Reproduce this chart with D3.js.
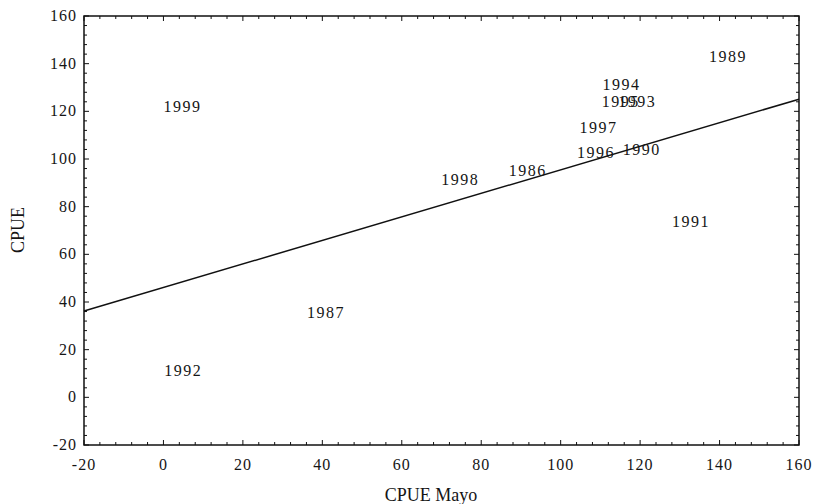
<!DOCTYPE html>
<html>
<head>
<meta charset="utf-8">
<script src="https://cdn.jsdelivr.net/npm/d3@7"></script>
<style>
  body { margin: 0; background: #fff; }
  text { font-family: "Liberation Serif", "DejaVu Serif", serif; fill: #151515; }
</style>
</head>
<body>
<div id="chart"></div>
<script>
// data
var years    = ["1999", "1989", "1994", "1995", "1993", "1997", "1996", "1990", "1986", "1998", "1991", "1987", "1992"];
var cpueMayo = [4.8, 142.1, 115.3, 115.1, 119.3, 109.5, 108.9, 120.4, 91.7, 74.7, 132.8, 40.9, 5.0];
var cpue     = [122, 142.8, 131, 124.1, 124.1, 112.9, 102.7, 103.8, 95, 91.2, 73.6, 35.3, 11.2];

// fitted line end points
var fitX = [-20, 160];
var fitY = [36.2, 125.1];

var xTicks = [-20, 0, 20, 40, 60, 80, 100, 120, 140, 160];
var yTicks = [-20, 0, 20, 40, 60, 80, 100, 120, 140, 160];

var width = 815, height = 504;
var margin = {top: 16, right: 16, bottom: 59, left: 84};

var svg = d3.select("#chart").append("svg")
    .attr("width", width)
    .attr("height", height);

var x = d3.scaleLinear().domain([-20, 160]).range([margin.left, width - margin.right]);
var y = d3.scaleLinear().domain([-20, 160]).range([height - margin.bottom, margin.top]);

var g = svg.append("g");

// frame
g.append("rect")
    .attr("x", x(-20))
    .attr("y", y(160))
    .attr("width", x(160) - x(-20))
    .attr("height", y(-20) - y(160))
    .attr("fill", "none")
    .attr("stroke", "#111")
    .attr("stroke-width", 1.5);

// inward ticks on all four sides
var xMinor = d3.range(-20, 160.01, 4);
var yMinor = d3.range(-20, 160.01, 4);

function tickLen(v) { return v % 20 === 0 ? 5 : 3; }

g.selectAll(".xb").data(xMinor).enter().append("line")
    .attr("x1", d => x(d)).attr("x2", d => x(d))
    .attr("y1", y(-20)).attr("y2", d => y(-20) - tickLen(d))
    .attr("stroke", "#111");
g.selectAll(".xt").data(xMinor).enter().append("line")
    .attr("x1", d => x(d)).attr("x2", d => x(d))
    .attr("y1", y(160)).attr("y2", d => y(160) + tickLen(d))
    .attr("stroke", "#111");
g.selectAll(".yl").data(yMinor).enter().append("line")
    .attr("y1", d => y(d)).attr("y2", d => y(d))
    .attr("x1", x(-20)).attr("x2", d => x(-20) + tickLen(d))
    .attr("stroke", "#111");
g.selectAll(".yr").data(yMinor).enter().append("line")
    .attr("y1", d => y(d)).attr("y2", d => y(d))
    .attr("x1", x(160)).attr("x2", d => x(160) - tickLen(d))
    .attr("stroke", "#111");

// tick labels
g.selectAll(".xl").data(xTicks).enter().append("text")
    .attr("x", d => x(d))
    .attr("y", y(-20) + 25)
    .attr("text-anchor", "middle")
    .attr("font-size", 16)
    .attr("letter-spacing", 1)
    .text(d => d);

g.selectAll(".ylab").data(yTicks).enter().append("text")
    .attr("x", x(-20) - 7)
    .attr("y", d => y(d) + 5)
    .attr("text-anchor", "end")
    .attr("font-size", 16)
    .attr("letter-spacing", 1)
    .text(d => d);

// axis titles
svg.append("text")
    .attr("x", 431)
    .attr("y", 501)
    .attr("text-anchor", "middle")
    .attr("font-size", 18)
    .text("CPUE Mayo");

svg.append("text")
    .attr("transform", "translate(24," + 230 + ") rotate(-90)")
    .attr("text-anchor", "middle")
    .attr("font-size", 18)
    .text("CPUE");

// regression line
g.append("line")
    .attr("x1", x(fitX[0])).attr("y1", y(fitY[0]))
    .attr("x2", x(fitX[1])).attr("y2", y(fitY[1]))
    .attr("stroke", "#111")
    .attr("stroke-width", 1.5);

// year labels as point markers
g.selectAll(".pt").data(years).enter().append("text")
    .attr("x", (d, i) => x(cpueMayo[i]))
    .attr("y", (d, i) => y(cpue[i]) + 5)
    .attr("text-anchor", "middle")
    .attr("font-size", 16)
    .attr("letter-spacing", 1.5)
    .text(d => d);
</script>
</body>
</html>
